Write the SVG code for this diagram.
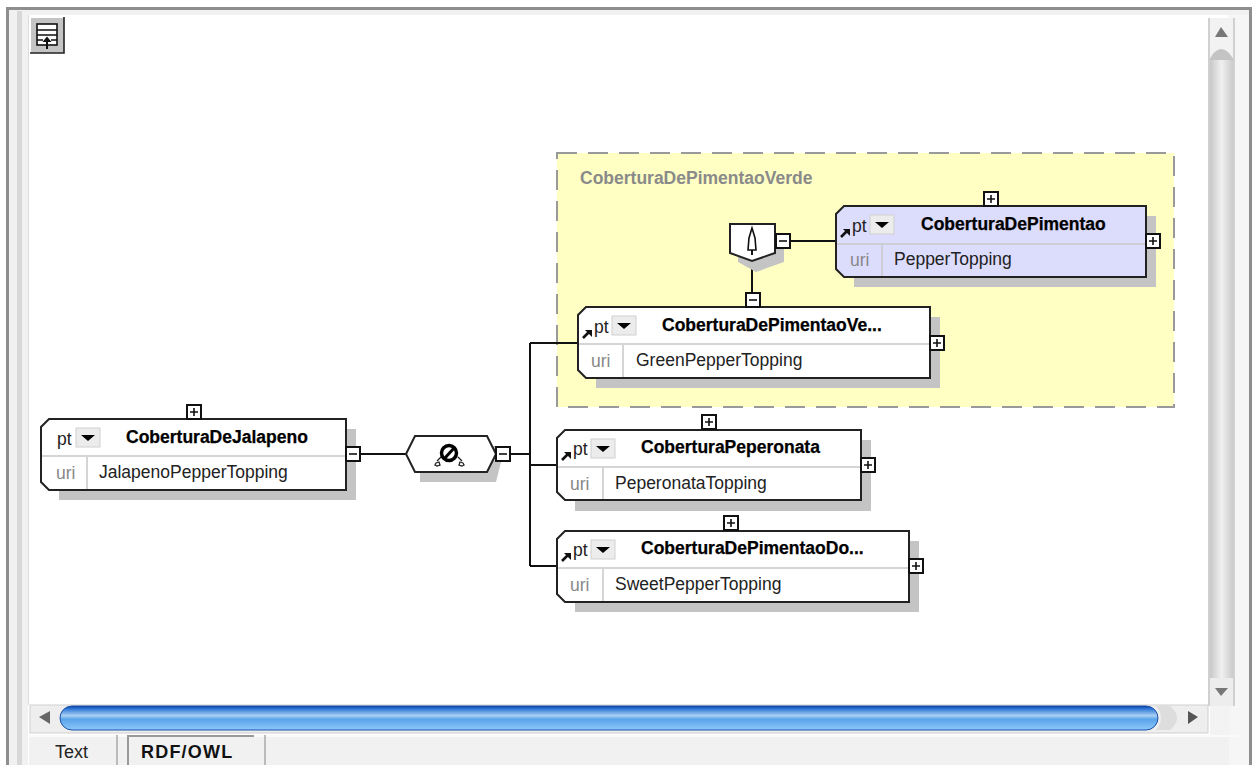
<svg xmlns="http://www.w3.org/2000/svg" width="1252" height="765" viewBox="0 0 1252 765">
<defs>
<linearGradient id="hbar" x1="0" y1="0" x2="0" y2="1"><stop offset="0" stop-color="#0a3fa8"/><stop offset="0.12" stop-color="#2f78d8"/><stop offset="0.4" stop-color="#a8d0f2"/><stop offset="0.55" stop-color="#5aa4ea"/><stop offset="1" stop-color="#8cc8fa"/></linearGradient>
<linearGradient id="vbar" x1="0" y1="0" x2="1" y2="0"><stop offset="0" stop-color="#c4c4c4"/><stop offset="0.5" stop-color="#f0f0f0"/><stop offset="1" stop-color="#c8c8c8"/></linearGradient>
<linearGradient id="cap" x1="0" y1="0" x2="1" y2="0"><stop offset="0" stop-color="#f4f4f4"/><stop offset="1" stop-color="#c4c4c4"/></linearGradient>
</defs>
<style>
text{font-family:"Liberation Sans",Arial,sans-serif;fill:#222}
.t{font-size:17.5px;font-weight:bold;fill:#000;stroke:#000;stroke-width:.25}
.v{font-size:17.5px}
.u{font-size:17.5px;fill:#888}
.l{font-size:17.5px}
.sh{fill:#c4c4c4}
.b{fill:#fff;stroke:#222;stroke-width:2}
.b2{fill:#dcdcfc;stroke:#222;stroke-width:2}
.d{fill:none;stroke:#c8c8c8;stroke-width:1.5}
.c{fill:none;stroke:#111;stroke-width:2}
.box{fill:#fff;stroke:#111;stroke-width:2}
.s{stroke:#111;stroke-width:1.6;fill:none}
.dd{fill:#ececec;stroke:#d0d0d0;stroke-width:1}
.tri{fill:#000}
.arr{fill:none;stroke:#111;stroke-width:2.6}
.ah{fill:#111}
</style>
<rect width="1252" height="765" fill="#fff"/>
<g id="frame">
<rect x="0" y="0" width="1252" height="7" fill="#fff"/>
<rect x="6" y="7" width="1246" height="3" fill="#8e8e8e"/>
<rect x="6" y="7" width="3" height="758" fill="#8e8e8e"/>
<rect x="1249" y="7" width="3" height="758" fill="#8e8e8e"/>
<rect x="9" y="10" width="1240" height="5" fill="#f1f1f1"/>
<rect x="17" y="11" width="5" height="754" fill="#d8d8d8"/>
<rect x="9" y="10" width="8" height="755" fill="#f1f1f1"/>
<rect x="22" y="15" width="6" height="750" fill="#f1f1f1"/>
<rect x="28" y="15" width="1" height="690" fill="#ddd"/>
<rect x="1228" y="15" width="21" height="750" fill="#f6f6f6"/>
<rect x="1210" y="706" width="20" height="30" fill="#f3f3f3"/>
<rect x="29" y="736" width="1200" height="29" fill="#f1f1f1"/>
<rect x="29" y="735" width="1208" height="2" fill="#fafafa"/>
</g>
<g id="toolbar-button">
<rect x="31" y="18" width="33" height="35" fill="#c4c4c4"/>
<path d="M30 53H64V17" fill="none" stroke="#222" stroke-width="1.6"/>
<rect x="37" y="24" width="20" height="21" fill="#fff" stroke="#111" stroke-width="1.6"/>
<path d="M37 30H57M37 35H57M37 40H43M51 40H57" stroke="#111" stroke-width="1.4" fill="none"/>
<path d="M47 49V38" stroke="#111" stroke-width="2"/>
<path d="M42.500 42L47 36.500L51.500 42Z" fill="#111"/>
</g>
<g id="vscroll">
<rect x="1209" y="18" width="25" height="688" fill="url(#vbar)"/>
<rect x="1209" y="18" width="25" height="40" fill="#f2f2f2"/>
<path d="M1209 60Q1221 38 1234 60Z" fill="#c4c4c4"/>
<path d="M1215 37L1221 27L1228 37Z" fill="#777"/>
<rect x="1209" y="678" width="25" height="28" fill="#ededed"/>
<path d="M1215 688L1221 696L1228 688Z" fill="#777"/>
<rect x="1208" y="18" width="2" height="688" fill="#d0d0d0"/>
<rect x="1233" y="18" width="2" height="688" fill="#d0d0d0"/>
</g>
<g id="hscroll">
<rect x="30" y="705" width="1178" height="28" fill="#eeeeee" stroke="#cfcfcf" stroke-width="1"/>
<path d="M39 717L50 711V724Z" fill="#666"/>
<rect x="60" y="706" width="1098" height="24" rx="12" fill="url(#hbar)" stroke="#1a4fa8" stroke-width="1"/>
<path d="M1156 706H1170Q1184 718 1170 730H1156Q1166 718 1156 706Z" fill="#ddd"/>
<path d="M1188 711L1198 717L1188 724Z" fill="#555"/>
</g>
<g id="tabs">
<path d="M117 735V765M265 735V765" stroke="#bbb" stroke-width="2"/>
<path d="M128 765V736H254" fill="none" stroke="#999" stroke-width="2"/>
<text x="55" y="758" style="font-size:18px">Text</text>
<text x="141" y="758" style="font-size:18px;font-weight:bold;letter-spacing:1.200px;fill:#111">RDF/OWL</text>
</g>
<g id="group-CoberturaDePimentaoVerde">
<rect x="557" y="153" width="617" height="254" fill="#ffffc4" stroke="#999" stroke-width="2" stroke-dasharray="20 11"/>
<text x="580" y="184" style="font-size:17.500px;font-weight:bold;fill:#8a8a8a">CoberturaDePimentaoVerde</text>
</g>
<g id="connectors">
<path class="c" d="M360 454H406"/>
<path class="c" d="M510 454H530M530 343V566M530 343H578M530 465H557M530 566H557"/>
<path class="c" d="M791 241H836"/>
<path class="c" d="M752 260V293"/>
</g>
<g id="node-CoberturaDeJalapeno">
<path class="sh" d="M59 429H356V500H59Z"/>
<path class="b" d="M49 419H346V490H49L41 482V427Z"/>
<path class="d" d="M42 456H345M87 457V489"/>
<rect class="box" x="187" y="405" width="14" height="14"/><path class="s" d="M190 412H198M194 408V416"/>
<rect class="box" x="346" y="447" width="14" height="14"/><path class="s" d="M349 454H357"/>
<text class="v" x="57" y="445">pt</text>
<rect class="dd" x="76" y="428" width="24" height="19"/><path class="tri" d="M81 435H95L88 441Z"/>
<text class="t" x="126" y="443">CoberturaDeJalapeno</text>
<text class="u" x="56" y="479">uri</text>
<text class="l" x="99" y="478">JalapenoPepperTopping</text>
</g>
<g id="node-disjoint">
<path class="sh" d="M420 446H494L505 446L496 482H420Z"/>
<path class="b" d="M415 436H487L496 454L487 472H415L406 454Z"/>
<circle cx="449" cy="453" r="7.500" fill="none" stroke="#000" stroke-width="3.500"/>
<path d="M444 459L455 447" stroke="#000" stroke-width="3"/>
<path d="M441 457L437 461M436 463l3 -1 1 3 -3 1 -2 -1zM458 457L462 461M463 463l-3 -1 -1 3 3 1 2 -1z" fill="#fff" stroke="#222" stroke-width="1.300"/>
<rect class="box" x="496" y="447" width="14" height="14"/><path class="s" d="M499 454H507"/>
</g>
<g id="node-subclass">
<path class="sh" d="M738 234H784V262L756 272L738 262Z"/>
<path class="b" d="M730 224H775V253L752 261L730 253Z"/>
<path d="M752 228L749 238L748 250H756L755 238Z" fill="#fff" stroke="#111" stroke-width="1.600"/>
<path d="M752 250V255" stroke="#111" stroke-width="2"/>
<rect class="box" x="776" y="234" width="14" height="14"/><path class="s" d="M779 241H787"/>
</g>
<g id="node-CoberturaDePimentao">
<path class="sh" d="M854 216H1156V287H854Z"/>
<path class="b2" d="M844 206H1146V277H844L836 269V214Z"/>
<path class="d" d="M837 244H1145M882 245V276"/>
<rect class="box" x="984" y="192" width="14" height="14"/><path class="s" d="M987 199H995M991 195V203"/>
<rect class="box" x="1146" y="234" width="14" height="14"/><path class="s" d="M1149 241H1157M1153 237V245"/>
<path class="arr" d="M841 237L847 231"/><path class="ah" d="M843 229H850V236Z"/>
<text class="v" x="852" y="232">pt</text>
<rect class="dd" x="870" y="215" width="24" height="19"/><path class="tri" d="M875 222H889L882 228Z"/>
<text class="t" x="921" y="230">CoberturaDePimentao</text>
<text class="u" x="850" y="266">uri</text>
<text class="l" x="894" y="265">PepperTopping</text>
</g>
<g id="node-CoberturaDePimentaoVerde">
<path class="sh" d="M596 317H940V388H596Z"/>
<path class="b" d="M586 307H930V378H586L578 370V315Z"/>
<path class="d" d="M579 344H929M623 345V377"/>
<rect class="box" x="746" y="293" width="14" height="14"/><path class="s" d="M749 300H757"/>
<rect class="box" x="930" y="336" width="14" height="14"/><path class="s" d="M933 343H941M937 339V347"/>
<path class="arr" d="M583 338L589 332"/><path class="ah" d="M585 330H592V337Z"/>
<text class="v" x="594" y="333">pt</text>
<rect class="dd" x="612" y="316" width="24" height="19"/><path class="tri" d="M617 323H631L624 329Z"/>
<text class="t" x="662" y="331">CoberturaDePimentaoVe...</text>
<text class="u" x="591" y="367">uri</text>
<text class="l" x="636" y="366">GreenPepperTopping</text>
</g>
<g id="node-CoberturaPeperonata">
<path class="sh" d="M575 440H871V511H575Z"/>
<path class="b" d="M565 430H861V500H565L557 492V438Z"/>
<path class="d" d="M558 467H860M603 468V499"/>
<rect class="box" x="702" y="415" width="14" height="14"/><path class="s" d="M705 422H713M709 418V426"/>
<rect class="box" x="861" y="458" width="14" height="14"/><path class="s" d="M864 465H872M868 461V469"/>
<path class="arr" d="M562 460L568 454"/><path class="ah" d="M564 452H571V459Z"/>
<text class="v" x="573" y="455">pt</text>
<rect class="dd" x="591" y="439" width="24" height="19"/><path class="tri" d="M596 446H610L603 452Z"/>
<text class="t" x="641" y="453">CoberturaPeperonata</text>
<text class="u" x="570" y="490">uri</text>
<text class="l" x="615" y="489">PeperonataTopping</text>
</g>
<g id="node-CoberturaDePimentaoDoce">
<path class="sh" d="M575 541H919V612H575Z"/>
<path class="b" d="M565 531H909V602H565L557 594V539Z"/>
<path class="d" d="M558 568H908M603 569V601"/>
<rect class="box" x="724" y="516" width="14" height="14"/><path class="s" d="M727 523H735M731 519V527"/>
<rect class="box" x="909" y="559" width="14" height="14"/><path class="s" d="M912 566H920M916 562V570"/>
<path class="arr" d="M562 561L568 555"/><path class="ah" d="M564 553H571V560Z"/>
<text class="v" x="573" y="556">pt</text>
<rect class="dd" x="591" y="540" width="24" height="19"/><path class="tri" d="M596 547H610L603 553Z"/>
<text class="t" x="641" y="554">CoberturaDePimentaoDo...</text>
<text class="u" x="570" y="591">uri</text>
<text class="l" x="615" y="590">SweetPepperTopping</text>
</g>
</svg>
